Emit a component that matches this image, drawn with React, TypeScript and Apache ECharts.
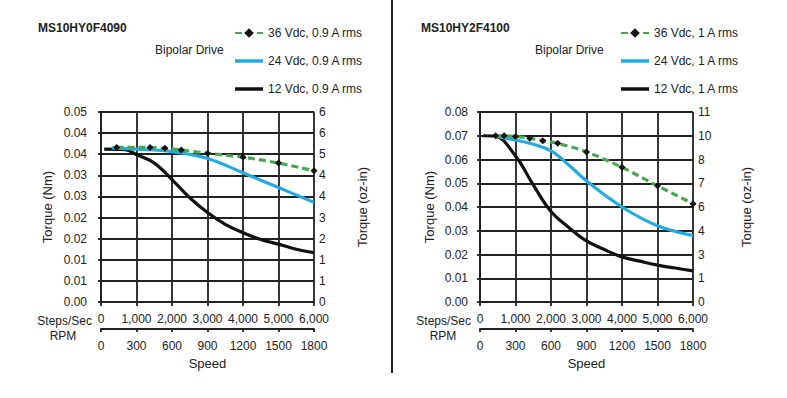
import React, { useEffect, useRef } from "react";
import * as echarts from "echarts";

// ---- Data ----
const leftTitle = "MS10HY0F4090";
const rightTitle = "MS10HY2F4100";

const leftSeriesNames = ["36 Vdc, 0.9 A rms", "24 Vdc, 0.9 A rms", "12 Vdc, 0.9 A rms"];
const rightSeriesNames = ["36 Vdc, 1 A rms", "24 Vdc, 1 A rms", "12 Vdc, 1 A rms"];

// Left chart (steps/sec, torque Nm)
const left36X = [440, 1380, 1800, 2260, 3000, 4000, 5000, 6000];
const left36Y = [0.0366, 0.0366, 0.0364, 0.036, 0.0352, 0.0343, 0.0329, 0.0311];
const left24X = [300, 1000, 2000, 3000, 4000, 5000, 6000];
const left24Y = [0.0365, 0.0362, 0.0356, 0.034, 0.0306, 0.0271, 0.0236];
const left12X = [90, 680, 1000, 1500, 2000, 2500, 3000, 3500, 4000, 4500, 5000, 5500, 6000];
const left12Y = [0.0362, 0.0361, 0.0349, 0.0329, 0.029, 0.0247, 0.0212, 0.0184, 0.0164, 0.0148, 0.0137, 0.0125, 0.0117];

// Right chart
const right36X = [440, 680, 1000, 1400, 1770, 2190, 3000, 4000, 5000, 6000];
const right36Y = [0.07, 0.07, 0.0697, 0.069, 0.0679, 0.0668, 0.0632, 0.0567, 0.0489, 0.0414];
const right24X = [370, 1000, 1500, 2000, 2500, 3000, 4000, 5000, 6000];
const right24Y = [0.07, 0.0682, 0.0664, 0.0636, 0.0577, 0.051, 0.04, 0.0321, 0.028];
const right12X = [90, 420, 1000, 1500, 2000, 2500, 3000, 3500, 4000, 4500, 5000, 5500, 6000];
const right12Y = [0.07, 0.0698, 0.0615, 0.0493, 0.0381, 0.0314, 0.0257, 0.0221, 0.019, 0.0172, 0.0155, 0.0143, 0.0131];

// Tick labels
const leftNmLabels = ["0.00", "0.01", "0.01", "0.02", "0.02", "0.03", "0.03", "0.04", "0.04", "0.05"];
const leftOzLabels = ["0", "1", "1", "2", "3", "4", "4", "5", "6", "6"];
const rightNmLabels = ["0.00", "0.01", "0.02", "0.03", "0.04", "0.05", "0.06", "0.07", "0.08"];
const rightOzLabels = ["0", "1", "3", "4", "6", "7", "8", "10", "11"];
const stepsLabels = ["0", "1,000", "2,000", "3,000", "4,000", "5,000", "6,000"];
const rpmLabels = ["0", "300", "600", "900", "1200", "1500", "1800"];

const FONT = "'Liberation Sans', Arial, sans-serif";
const TXT = "#222";
const GRIDC = "#222";
const GW = 1.8;
const GREEN = "#48a84f";
const BLUE = "#22aae2";
const BLACK = "#111";
const LINE_ICON = "path://M0,0L28,0L28,3.5L0,3.5Z";

const zip = (xs: number[], ys: number[]) => xs.map((x, i) => [x, ys[i]]);
const ls = () => ({ color: GRIDC, width: GW });

const panels = [
  {
    title: leftTitle,
    names: leftSeriesNames,
    data: [zip(left36X, left36Y), zip(left24X, left24Y), zip(left12X, left12Y)],
    nm: leftNmLabels,
    oz: leftOzLabels,
    yMax: 0.045,
    yInt: 0.005,
  },
  {
    title: rightTitle,
    names: rightSeriesNames,
    data: [zip(right36X, right36Y), zip(right24X, right24Y), zip(right12X, right12Y)],
    nm: rightNmLabels,
    oz: rightOzLabels,
    yMax: 0.08,
    yInt: 0.01,
  },
];

// layout per panel
const layout = [
  { left: 101, nmMargin: 14, nmGap: 47, ozGap: 42, titleX: 38, driveX: 155, legendX: 234, stepsX: 92, rpmX: 63 },
  { left: 480, nmMargin: 12, nmGap: 44, ozGap: 47, titleX: 421, driveX: 535, legendX: 620, stepsX: 471, rpmX: 443 },
];

const txt = (text: string, x: number, y: number, opts: any = {}) => ({
  type: "text",
  x,
  y,
  silent: true,
  style: {
    text,
    fill: TXT,
    font: `${opts.weight || "normal"} ${opts.size || 12}px ${FONT}`,
    align: opts.align || "left",
    verticalAlign: "middle",
  },
});

function buildOption(g: number) {
  const p = panels[g];
  const L = layout[g];
  const lbl = (formatter: (v: number) => string, margin: number) => ({
    margin,
    fontSize: 12,
    fontFamily: FONT,
    color: TXT,
    formatter,
  });

  const xAxis = [
    {
      type: "value",
      min: 0,
      max: 6000,
      interval: 1000,
      position: "bottom",
      axisLine: { show: true, onZero: false, lineStyle: ls() },
      axisTick: { show: true, length: 4, lineStyle: ls() },
      splitLine: { show: true, lineStyle: ls() },
      axisLabel: lbl((v: number) => stepsLabels[Math.round(v / 1000)] ?? "", 11),
    },
    {
      type: "value",
      min: 0,
      max: 1800,
      interval: 300,
      position: "bottom",
      offset: 27,
      axisLine: { show: true, onZero: false, lineStyle: ls() },
      axisTick: { show: true, length: 3, lineStyle: ls() },
      splitLine: { show: false },
      axisLabel: lbl((v: number) => rpmLabels[Math.round(v / 300)] ?? "", 11),
    },
  ];
  const yAxis = [
    {
      type: "value",
      min: 0,
      max: p.yMax,
      interval: p.yInt,
      position: "left",
      name: "Torque (Nm)",
      nameLocation: "middle",
      nameRotate: 90,
      nameGap: L.nmGap,
      nameTextStyle: { fontSize: 13, fontFamily: FONT, color: TXT },
      axisLine: { show: true, lineStyle: ls() },
      axisTick: { show: true, length: 3, lineStyle: ls() },
      splitLine: { show: true, lineStyle: ls() },
      axisLabel: lbl((v: number) => p.nm[Math.round(v / p.yInt)] ?? "", L.nmMargin),
    },
    {
      type: "value",
      min: 0,
      max: p.yMax,
      interval: p.yInt,
      position: "right",
      name: "Torque (oz-in)",
      nameLocation: "middle",
      nameRotate: 90,
      nameGap: L.ozGap,
      nameTextStyle: { fontSize: 13, fontFamily: FONT, color: TXT },
      axisLine: { show: true, lineStyle: ls() },
      axisTick: { show: true, length: 3, lineStyle: ls() },
      splitLine: { show: false },
      axisLabel: lbl((v: number) => p.oz[Math.round(v / p.yInt)] ?? "", 5),
    },
  ];

  const series = p.names.map((name, kind) => {
    const base: any = { type: "line", name, xAxisIndex: 0, yAxisIndex: 0, data: p.data[kind], z: 10 - kind };
    if (kind === 0) {
      return {
        ...base,
        smooth: 0.3,
        symbol: "diamond",
        symbolSize: 7,
        showSymbol: true,
        itemStyle: { color: BLACK },
        lineStyle: { color: GREEN, width: 3.2, type: [7, 4] },
      };
    }
    return {
      ...base,
      smooth: 0.4,
      symbol: "none",
      showSymbol: false,
      itemStyle: { color: kind === 1 ? BLUE : BLACK },
      lineStyle: { color: kind === 1 ? BLUE : BLACK, width: 3.2 },
    };
  });

  const graphic: any[] = [
    txt(p.title, L.titleX, 28, { weight: "bold" }),
    txt("Bipolar Drive", L.driveX, 50),
    txt("Steps/Sec", L.stepsX, 321, { align: "right" }),
    txt("RPM", L.rpmX, 336, { align: "center" }),
    txt("Speed", L.left + 106.5, 363, { align: "center", size: 13 }),
  ];
  if (g === 0) {
    graphic.push({
      type: "line",
      silent: true,
      shape: { x1: 392, y1: 0, x2: 392, y2: 373 },
      style: { stroke: "#222", lineWidth: 2 },
    });
  }

  return {
    animation: false,
    grid: [{ left: L.left, top: 112, width: 213, height: 190 }],
    xAxis,
    yAxis,
    series,
    legend: {
      orient: "vertical",
      left: L.legendX,
      top: 27,
      padding: 0,
      itemWidth: 28,
      itemHeight: 12,
      itemGap: 16,
      textStyle: { fontSize: 12, fontFamily: FONT, color: TXT },
      selectedMode: false,
      data: [{ name: p.names[0] }, { name: p.names[1], icon: LINE_ICON }, { name: p.names[2], icon: LINE_ICON }],
    },
    graphic,
  };
}

function Panel({ g }: { g: number }) {
  const ref = useRef<HTMLDivElement>(null);
  useEffect(() => {
    if (!ref.current) return;
    const chart = echarts.init(ref.current, undefined, { renderer: "svg" });
    chart.setOption(buildOption(g));
    return () => chart.dispose();
  }, [g]);
  return (
    <div
      ref={ref}
      style={{ position: "absolute", left: 0, top: 0, width: 787, height: 398, pointerEvents: g === 1 ? "none" : "auto" }}
    />
  );
}

export default function App() {
  return (
    <div style={{ position: "fixed", left: 0, top: 0, width: 787, height: 398, background: "#fff" }}>
      <Panel g={0} />
      <Panel g={1} />
    </div>
  );
}
